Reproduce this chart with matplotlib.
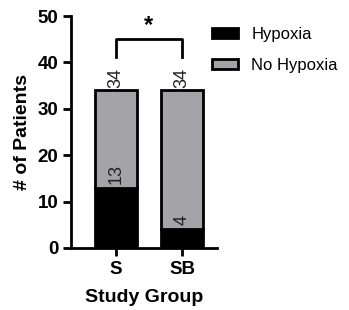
import matplotlib
matplotlib.use("Agg")
import matplotlib.pyplot as plt
from matplotlib.patches import Patch

plt.rcParams['font.family'] = ['Liberation Sans', 'DejaVu Sans']

groups = ["S", "SB"]
hypoxia = [13, 4]
no_hypoxia = [21, 30]
totals = [34, 34]
yticks = [0, 10, 20, 30, 40, 50]

fig = plt.figure(figsize=(3.49, 3.10), dpi=100)
ax = fig.add_axes([0.203, 0.2, 0.419, 0.748])

x = list(range(len(groups)))
w = 0.64
gray = "#a4a4a8"
ax.bar(x, hypoxia, width=w, color="black", edgecolor="black", linewidth=2, label="Hypoxia", zorder=2)
ax.bar(x, no_hypoxia, bottom=hypoxia, width=w, color=gray, edgecolor="black", linewidth=2,
       label="No Hypoxia", zorder=2)

for xi, h, t in zip(x, hypoxia, totals):
    ax.annotate(str(h), (xi, h), xytext=(0, 3), textcoords="offset points", rotation=90,
                ha="center", va="bottom", fontsize=13, color="#222222")
    ax.annotate(str(t), (xi, t), xytext=(0, 2), textcoords="offset points", rotation=90,
                ha="center", va="bottom", fontsize=13, color="#222222")

# significance bracket
ax.plot([0, 0, 1, 1], [41.2, 45, 45, 41.2], color="black", lw=2, clip_on=False)
ax.text(0.5, 45.6, "*", ha="center", va="bottom", fontsize=17, fontweight="bold")

ax.set_xlim(-0.68, 1.53)
ax.set_ylim(0, 50)
ax.set_yticks(yticks)
ax.set_xticks(x)
ax.set_xticklabels(groups)
for s in ["top", "right"]:
    ax.spines[s].set_visible(False)
for s in ["left", "bottom"]:
    ax.spines[s].set_linewidth(2)
ax.tick_params(width=2, length=6, labelsize=13.5, pad=3)
for lab in ax.get_xticklabels() + ax.get_yticklabels():
    lab.set_fontweight("bold")
ax.set_ylabel("# of Patients", fontsize=14, fontweight="bold", labelpad=5)
ax.set_xlabel("Study Group", fontsize=14, fontweight="bold", labelpad=8)

handles = [Patch(facecolor="black", edgecolor="black", linewidth=2, label="Hypoxia"),
           Patch(facecolor=gray, edgecolor="black", linewidth=2, label="No Hypoxia")]
fig.legend(handles=handles, loc="upper left", bbox_to_anchor=(0.565, 0.962), frameon=False,
           fontsize=12, handlelength=1.55, handleheight=0.55, handletextpad=0.8, labelspacing=0.95)

fig.savefig("out.png", dpi=100)
